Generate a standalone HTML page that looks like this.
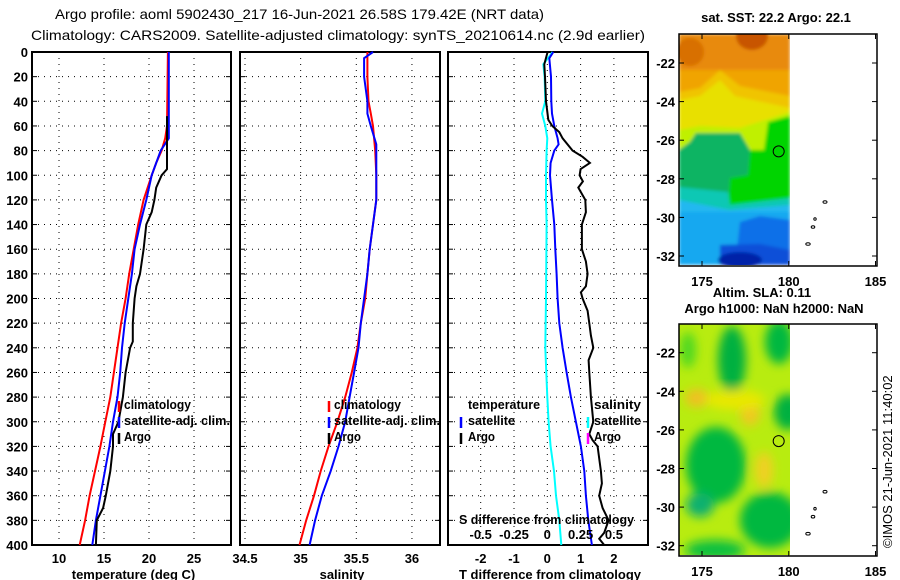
<!DOCTYPE html>
<html><head><meta charset="utf-8"><title>Argo profile</title>
<style>
html,body{margin:0;padding:0;background:#fff;}
svg{display:block;font-family:"Liberation Sans",Arial,sans-serif;}
.tk{font-size:13px;font-weight:bold;fill:#000;}
.lg{font-size:13px;font-weight:bold;fill:#000;}
</style></head>
<body>
<svg id="chart" xmlns="http://www.w3.org/2000/svg" width="900" height="580" viewBox="0 0 900 580">
<rect x="0" y="0" width="900" height="580" fill="#fff"/>
<text x="55" y="19" font-size="14" textLength="489" lengthAdjust="spacingAndGlyphs">Argo profile: aoml 5902430_217 16-Jun-2021 26.58S 179.42E (NRT data)</text>
<text x="31" y="40" font-size="14" textLength="614" lengthAdjust="spacingAndGlyphs">Climatology: CARS2009. Satellite-adjusted climatology: synTS_20210614.nc (2.9d earlier)</text>

<defs>
<clipPath id="clipA"><rect x="679" y="34" width="111" height="231"/></clipPath>
<clipPath id="clipB"><rect x="679" y="324" width="111" height="231"/></clipPath>
<filter id="blurS" x="-20%" y="-20%" width="140%" height="140%"><feGaussianBlur stdDeviation="1.5"/></filter>
<filter id="blurL" x="-50%" y="-50%" width="200%" height="200%"><feGaussianBlur stdDeviation="5"/></filter>
</defs>

<g>
<g clip-path="url(#clipA)" filter="url(#blurS)">
<rect x="679" y="34" width="111" height="231" fill="#f0a400"/>
<path d="M679 34 H790 V70 H679Z" fill="#e88a08"/>
<ellipse cx="752" cy="36" rx="16" ry="14" fill="#c85400"/>
<ellipse cx="690" cy="52" rx="14" ry="14" fill="#d87000"/>
<path d="M679 92 L700 88 L720 70 L740 86 L770 92 L790 96 V130 H679Z" fill="#f0c400"/>
<path d="M679 100 L700 96 L720 80 L735 96 L790 108 V140 H679Z" fill="#e8e000"/>
<path d="M679 130 L700 126 L740 128 L790 112 V150 H679Z" fill="#c0f000"/>
<path d="M679 150 L690 142 L696 133 L740 133 L750 150 L764 150 L768 122 L790 116 V265 H679Z" fill="#00d400"/>
<path d="M679 150 L690 142 L696 133 L740 133 L750 150 L748 175 L730 178 L728 205 L679 205Z" fill="#10b464"/>
<path d="M679 187 L728 192 L730 205 L790 198 V265 H679Z" fill="#10c8b4"/>
<path d="M679 200 L730 210 L790 205 V265 H679Z" fill="#20b8f0"/>
<path d="M679 212 L790 212 V265 H679Z" fill="#18a8f0"/>
<path d="M740 222 L760 216 L790 220 V265 H735 L738 240Z" fill="#1070e8"/>
<path d="M720 245 L760 244 L790 250 V265 H720Z" fill="#0850d8"/>
<ellipse cx="740" cy="260" rx="22" ry="8" fill="#0020a8"/>
</g>
</g>

<g>
<g clip-path="url(#clipB)">
<rect x="679" y="324" width="111" height="231" fill="#b8ec10"/>
<g filter="url(#blurL)">
<ellipse cx="732" cy="360" rx="14" ry="34" fill="#00b040"/>
<ellipse cx="779" cy="342" rx="14" ry="22" fill="#00b840"/>
<ellipse cx="688" cy="350" rx="8" ry="18" fill="#50d820"/>
<ellipse cx="788" cy="412" rx="14" ry="18" fill="#00b040"/>
<ellipse cx="716" cy="465" rx="30" ry="38" fill="#00b840"/>
<ellipse cx="700" cy="505" rx="14" ry="12" fill="#10b070"/>
<ellipse cx="770" cy="520" rx="30" ry="28" fill="#00b840"/>
<ellipse cx="715" cy="550" rx="30" ry="10" fill="#10c040"/>
<ellipse cx="697" cy="398" rx="12" ry="9" fill="#f0c020"/>
<ellipse cx="750" cy="412" rx="10" ry="14" fill="#f0c820"/>
<ellipse cx="764" cy="470" rx="9" ry="18" fill="#f0d020"/>
<ellipse cx="735" cy="400" rx="30" ry="10" fill="#e8e800"/>
</g>
</g>
</g>

<g id="plots"></g>
<text transform="translate(892,548) rotate(-90)" font-size="13">©IMOS 21-Jun-2021 11:40:02</text>
</svg>

<script>
const tClimDepth = [0,60,70,80,90,100,120,140,160,180,200,220,240,260,280,300,320,340,360,380,400];
const tClimVals  = [22.1,22.0,21.8,21.4,20.8,20.3,19.4,18.8,18.3,17.8,17.4,16.9,16.5,16.1,15.7,15.15,14.6,14.0,13.4,12.9,12.3];
const tSatDepth  = [0,70,80,100,120,140,160,180,200,220,240,260,280,300,320,340,360,380,400];
const tSatVals   = [22.2,22.2,21.3,20.3,19.7,19.0,18.4,18.1,17.7,17.3,17.0,16.8,16.5,16.0,15.6,15.1,14.6,14.1,13.7];
const tArgoDepth = [52,95,100,110,120,130,140,160,180,190,200,220,235,240,260,280,300,310,320,340,360,370,380,400];
const tArgoVals  = [22.0,22.0,21.4,20.8,20.6,20.3,19.7,19.4,19.0,18.6,18.4,18.2,18.2,17.9,17.4,17.1,16.6,16.0,16.0,15.7,15.2,14.9,14.2,14.1];

const sClimDepth = [0,20,40,50,60,80,100,120,140,160,180,200,220,240,260,280,300,320,340,360,380,400];
const sClimVals  = [35.60,35.60,35.61,35.63,35.65,35.67,35.68,35.68,35.65,35.62,35.60,35.58,35.54,35.51,35.46,35.40,35.33,35.25,35.18,35.12,35.05,34.99];
const sSatDepth  = [0,5,20,40,50,60,75,80,100,120,140,160,180,200,220,240,260,280,300,320,340,360,380,400];
const sSatVals   = [35.65,35.57,35.57,35.60,35.60,35.63,35.68,35.68,35.68,35.68,35.65,35.62,35.60,35.57,35.54,35.52,35.48,35.44,35.40,35.34,35.27,35.19,35.13,35.08];

const dtSatDepth = [0,5,20,40,50,60,70,75,80,90,100,120,140,160,180,200,220,240,260,280,300,320,340,360,380,400];
const dtSatVals  = [0.18,0.06,0.11,0.12,0.14,0.21,0.31,0.34,0.21,0.10,0.08,0.14,0.21,0.24,0.28,0.31,0.36,0.46,0.58,0.71,0.86,1.01,1.11,1.16,1.23,1.34];
const dtArgoDepth = [0,10,20,40,55,60,65,70,80,85,90,95,100,105,110,120,130,140,160,170,180,190,195,200,210,220,230,240,250,260,280,300,310,315,320,340,350,360,370,380,390,395,400];
const dtArgoVals  = [0.01,-0.09,-0.07,-0.04,0.03,0.15,0.36,0.46,0.76,1.06,1.28,1.00,0.97,1.07,0.93,1.14,1.16,1.04,1.04,1.16,1.21,1.16,1.01,1.06,1.21,1.26,1.31,1.38,1.24,1.26,1.31,1.38,1.26,1.36,1.51,1.61,1.64,1.56,1.66,1.84,1.71,1.56,1.71];
const dsSatDepth = [0,10,20,40,50,60,70,80,100,120,140,200,240,280,300,320,340,360,380,400];
const dsSatVals  = [0.04,-0.03,-0.02,-0.015,-0.04,-0.015,0.0,-0.005,-0.01,-0.01,-0.005,-0.01,-0.015,0.0,0.01,0.025,0.05,0.065,0.09,0.105];

const depthTicks = [0,20,40,60,80,100,120,140,160,180,200,220,240,260,280,300,320,340,360,380,400];
const tTicks = [10,15,20,25];
const sTicks = [34.5,35,35.5,36];
const dtTicks = [-2,-1,0,1,2];
const dsTicks = [-0.5,-0.25,0,0.25,0.5];
const latTicks = [-22,-24,-26,-28,-30,-32];
const lonTicks = [175,180,185];
const argoLon = 179.42, argoLat = -26.58;

const TOP=52, BOT=545;
const yD = d => TOP + (d/400)*(BOT-TOP);
const P1={x0:32,x1:231}, P2={x0:240,x1:440}, P3={x0:448,x1:648};
const xT = v => 59 + (v-10)*9;
const xS = v => 245 + (v-34.5)*111.3;
const xDT = v => 547.3 + v*33.3;
const xDS = v => 547.3 + v*4*33.3;
const MAPX0=679, MAPX1=877;
const xLon = v => 702 + (v-175)*17.35;
const yLatA = v => 63 + (-22 - v)*19.3;
const yLatB = v => 352.7 + (-22 - v)*19.3;

const NS='http://www.w3.org/2000/svg';
const root=document.getElementById('plots');
function mk(tag,attrs,parent){const e=document.createElementNS(NS,tag);for(const k in attrs)e.setAttribute(k,attrs[k]);(parent||root).appendChild(e);return e;}

function series(depths,vals,xf,color,name,parent){
  let d='';
  for(let i=0;i<depths.length;i++){d+=(i?'L':'M')+xf(vals[i]).toFixed(1)+' '+yD(depths[i]).toFixed(1);}
  const p=mk('path',{d:d,fill:'none',stroke:color,'stroke-width':2},parent);
  
  
}

function panel(P,xf,ticks,labels,title,name,showDepth){
  const g=mk('g',{});
  
  
  depthTicks.forEach(d=>{
    const y=yD(d);
    if(d>0&&d<400){
      const gl=mk('line',{x1:P.x0,x2:P.x1,y1:y,y2:y,stroke:'#000','stroke-width':1,'stroke-dasharray':'1 5'},g);
      
      
    }
    mk('line',{x1:P.x0,x2:P.x0+5,y1:y,y2:y,stroke:'#000'},g);
    mk('line',{x1:P.x1-5,x2:P.x1,y1:y,y2:y,stroke:'#000'},g);
    if(showDepth){
      const t=mk('text',{x:P.x0-4,y:y+5,'text-anchor':'end',class:'tk'},g);
      t.textContent=d;
      
      
    }
  });
  ticks.forEach((v,i)=>{
    const x=xf(v);
    const gl=mk('line',{x1:x,x2:x,y1:TOP,y2:BOT,stroke:'#000','stroke-width':1,'stroke-dasharray':'1 5'},g);
    
    
    const t=mk('text',{x:x,y:563,'text-anchor':'middle',class:'tk'},g);
    t.textContent=labels[i];
    
    
  });
  const b=mk('rect',{x:P.x0,y:TOP,width:P.x1-P.x0,height:BOT-TOP,fill:'none',stroke:'#000','stroke-width':2},g);
  
  
  const tt=mk('text',{x:(P.x0+P.x1)/2+2,y:579,'text-anchor':'middle',class:'tk'},g);
  tt.textContent=title;
  
  
  return g;
}

function legendEntry(g,mx,tx,y,color,label,tl){
  const m=mk('line',{x1:mx,x2:mx,y1:y-8,y2:y+3,stroke:color,'stroke-width':2.5},g);
  
  
  if(label){
    const a={x:tx,y:y,class:'lg'};
    if(tl){a.textLength=tl;a.lengthAdjust='spacingAndGlyphs';}
    const t=mk('text',a,g);
    t.textContent=label;
    
    
  }
}

const g1=panel(P1,xT,tTicks,tTicks.map(String),'temperature (deg C)','temperature-panel',true);
series(tClimDepth,tClimVals,xT,'#ff0000','temp-climatology-line',g1);
series(tSatDepth,tSatVals,xT,'#0000ff','temp-satellite-line',g1);
series(tArgoDepth,tArgoVals,xT,'#000000','temp-argo-line',g1);
legendEntry(g1,119,124,409,'#ff0000','climatology',67);
legendEntry(g1,119,124,425,'#0000ff','satellite-adj. clim.',106);
legendEntry(g1,119,124,441,'#000000','Argo',27);

const g2=panel(P2,xS,sTicks,['34.5','35','35.5','36'],'salinity','salinity-panel',false);
series(sClimDepth,sClimVals,xS,'#ff0000','sal-climatology-line',g2);
series(sSatDepth,sSatVals,xS,'#0000ff','sal-satellite-line',g2);
legendEntry(g2,329,334,409,'#ff0000','climatology',67);
legendEntry(g2,329,334,425,'#0000ff','satellite-adj. clim.',106);
legendEntry(g2,329,334,441,'#000000','Argo',27);

const g3=panel(P3,xDT,dtTicks,dtTicks.map(String),'T difference from climatology','difference-panel',false);
series(dsSatDepth,dsSatVals,xDS,'#00ffff','sdiff-satellite-line',g3);
series(dtSatDepth,dtSatVals,xDT,'#0000ff','tdiff-satellite-line',g3);
series(dtArgoDepth,dtArgoVals,xDT,'#000000','tdiff-argo-line',g3);
(function(){
  const t=mk('text',{x:468,y:409,class:'lg',textLength:72,lengthAdjust:'spacingAndGlyphs'},g3);t.textContent='temperature';
  
  
  const s=mk('text',{x:594,y:409,class:'lg',textLength:47,lengthAdjust:'spacingAndGlyphs'},g3);s.textContent='salinity';
  
  
})();
legendEntry(g3,461,468,425,'#0000ff','satellite',47);
legendEntry(g3,461,468,441,'#000000','Argo',27);
legendEntry(g3,588,594,425,'#00ffff','satellite',47);
legendEntry(g3,588,594,441,'#ff00ff','Argo',27);
(function(){
  const t=mk('text',{x:459,y:524,class:'lg',textLength:175,lengthAdjust:'spacingAndGlyphs'},g3);t.textContent='S difference from climatology';
  
  
  dsTicks.forEach(v=>{
    const l=mk('text',{x:xDS(v),y:539,'text-anchor':'middle',class:'tk'},g3);
    l.textContent=String(v);
    
    
  });
})();

function mapAxes(yLat,top,bot,name,titleLines){
  const g=mk('g',{});
  
  
  const f=mk('rect',{x:MAPX0,y:top,width:MAPX1-MAPX0,height:bot-top,fill:'none',stroke:'#000','stroke-width':1.5},g);
  
  
  lonTicks.forEach(v=>{
    const x=xLon(v);
    mk('line',{x1:x,x2:x,y1:top,y2:top+5,stroke:'#000'},g);
    mk('line',{x1:x,x2:x,y1:bot-5,y2:bot,stroke:'#000'},g);
    const t=mk('text',{x:x,y:bot+20,'text-anchor':'middle',class:'tk'},g);
    t.textContent=v;
    
    
  });
  latTicks.forEach(v=>{
    const y=yLat(v);
    mk('line',{x1:MAPX0,x2:MAPX0+5,y1:y,y2:y,stroke:'#000'},g);
    mk('line',{x1:MAPX1-5,x2:MAPX1,y1:y,y2:y,stroke:'#000'},g);
    const t=mk('text',{x:MAPX0-4,y:y+5,'text-anchor':'end',class:'tk'},g);
    t.textContent=v;
    
    
  });
  const c=mk('circle',{cx:xLon(argoLon),cy:yLat(argoLat),r:5.5,fill:'none',stroke:'#000','stroke-width':1},g);
  
  
  const off=yLat(-22)-63;
  [[825,202,2],[815,219,1.2],[813,227,1.8],[808,244,2.2]].forEach(p=>{
    const e=mk('ellipse',{cx:p[0],cy:p[1]+off,rx:p[2],ry:1.3,fill:'none',stroke:'#000','stroke-width':1},g);
    
    
  });
  titleLines.forEach(tl=>{
    const t=mk('text',{x:tl[0],y:tl[1],'text-anchor':'middle',class:'tk'},g);
    t.textContent=tl[2];
    
    
  });
}
mapAxes(yLatA,34,266,'sst-map-axes',[[776,22,'sat. SST: 22.2 Argo: 22.1','sst-map-title']]);
mapAxes(yLatB,324,556,'sla-map-axes',[[762,297,'Altim. SLA: 0.11','sla-label'],[774,313,'Argo h1000: NaN h2000: NaN','sla-map-title']]);
</script>
</body></html>
